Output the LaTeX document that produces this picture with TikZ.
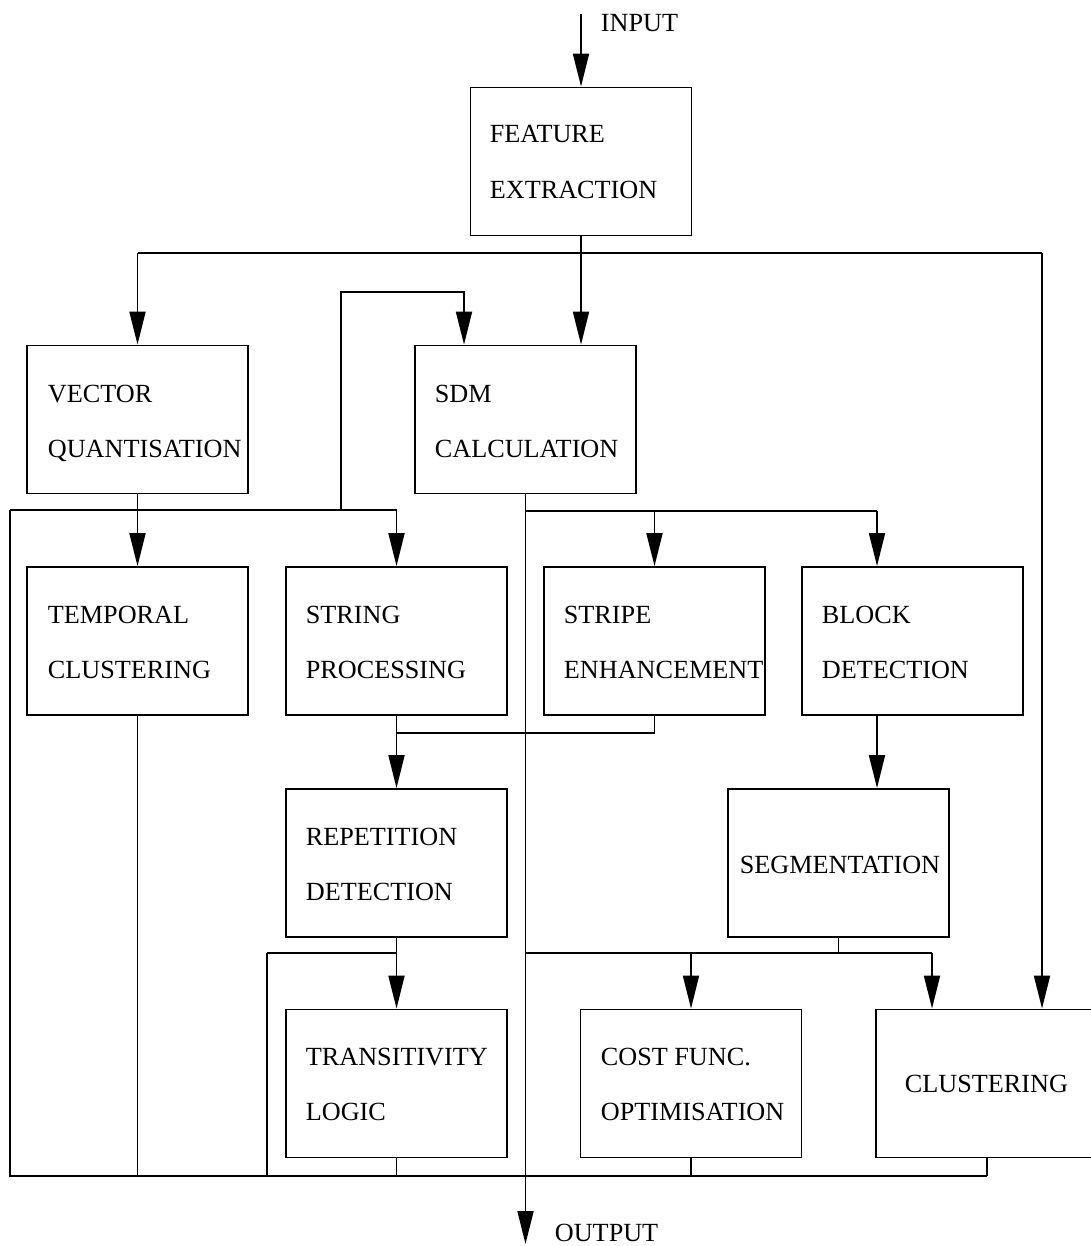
\documentclass[tikz,border=0pt]{standalone}
\usepackage{fontspec}
\setmainfont{Liberation Serif}
\usetikzlibrary{arrows.meta}
\begin{document}
\begin{tikzpicture}[x=1pt,y=-1pt,
  line width=1.8pt,
  box/.style={draw, line width=1.8pt, rectangle, inner sep=0pt, minimum width=221pt, minimum height=148pt},
  lbl/.style={anchor=base west, inner sep=0pt, font=\fontsize{26.2}{30}\selectfont},
  arr/.style={-{Triangle[length=33pt,width=16pt]}}]
\path[use as bounding box] (0,0) rectangle (1090,1246);
% boxes
\node[box] (fe) at (581,161.5) {};
\node[box] (vq) at (137.5,419.5) {};
\node[box] (sdm) at (525.5,419.5) {};
\node[box] (tc) at (137.5,641) {};
\node[box] (sp) at (396.5,641) {};
\node[box] (st) at (654.5,641) {};
\node[box] (bd) at (912.5,641) {};
\node[box] (rd) at (396.5,863) {};
\node[box] (seg) at (838.5,863) {};
\node[box] (tl) at (396.5,1083.5) {};
\node[box] (cost) at (691,1083.5) {};
\node[box, minimum width=222pt] (cl) at (987,1083.5) {};
% labels
\node[lbl] (fe1) at (489,143) {FEATURE};
\node[lbl] (fe2) at (489,199) {EXTRACTION};
\node[lbl] (vq1) at (47,402) {VECTOR};
\node[lbl] (vq2) at (47,457) {QUANTISATION};
\node[lbl] (sdm1) at (434,402) {SDM};
\node[lbl] (sdm2) at (434,457) {CALCULATION};
\node[lbl] (tc1) at (47,623) {TEMPORAL};
\node[lbl] (tc2) at (47,678) {CLUSTERING};
\node[lbl] (sp1) at (305,623) {STRING};
\node[lbl] (sp2) at (305,678) {PROCESSING};
\node[lbl] (st1) at (563,623) {STRIPE};
\node[lbl] (st2) at (563,678) {ENHANCEMENT};
\node[lbl] (bd1) at (821,623) {BLOCK};
\node[lbl] (bd2) at (821,678) {DETECTION};
\node[lbl] (rd1) at (305,845) {REPETITION};
\node[lbl] (rd2) at (305,900) {DETECTION};
\node[lbl] (seg1) at (739,873) {SEGMENTATION};
\node[lbl] (tl1) at (305,1065) {TRANSITIVITY};
\node[lbl] (tl2) at (305,1120) {LOGIC};
\node[lbl] (cost1) at (600,1065) {COST FUNC.};
\node[lbl] (cost2) at (600,1120) {OPTIMISATION};
\node[lbl] (cl1) at (904,1092) {CLUSTERING};
\node[lbl] (inp) at (600,32) {INPUT};
\node[lbl] (outp) at (554,1241) {OUTPUT};
% input
\coordinate (in) at (581,14);
\draw[arr] (in) -- (fe.north);
\draw[arr] (fe.south) -- (fe.south |- sdm.north);
% top bus
\coordinate (tbl) at (137.5,253);
\coordinate (tbr) at (1042,253);
\draw (tbl) -- (tbr);
\draw[arr] (tbl) -- (vq.north);
\draw[arr] (tbr) -- (tbr |- cl.north);
% VQ output bus
\coordinate (vb) at (137.5,510);
\coordinate (vbl) at (10,510);
\coordinate (vbr) at (396.5,510);
\coordinate (lp) at (341,510);
\coordinate (lpt) at (341,292);
\draw (vq.south) -- (vb);
\draw (vbl) -- (vbr);
\draw[arr] (vb) -- (tc.north);
\draw[arr] (vbr) -- (sp.north);
\draw[arr] (lp) -- (lpt) -| ([xshift=-61.5pt]sdm.north);
% bottom bus
\coordinate (bbl) at (10,1176);
\coordinate (bbr) at (987,1176);
\draw (vbl) -- (bbl) -- (bbr);
\draw (tc.south) -- (tc.south |- bbl);
\draw (tl.south) -- (tl.south |- bbl);
\draw (cost.south) -- (cost.south |- bbl);
\draw (cl.south) -- (bbr);
% SDM output
\coordinate (out) at (525.5,1244);
\draw[arr] (sdm.south) -- (out);
\coordinate (sb) at (525.5,511);
\coordinate (sbr) at (877,511);
\draw (sb) -- (sbr);
\draw[arr] (sb -| st.north) -- (st.north);
\draw[arr] (sbr) -- (sbr |- bd.north);
% stripe / string to repetition
\coordinate (rj) at (396.5,733);
\draw (st.south) |- (rj);
\draw (sp.south) -- (rj);
\draw[arr] (rj) -- (rd.north);
% block to segmentation
\draw[arr] ([xshift=-35.5pt]bd.south) -- ([xshift=38.5pt]seg.north);
% segmentation output
\coordinate (gj) at (838.5,953);
\coordinate (gl) at (525.5,953);
\coordinate (gr) at (932,953);
\draw (seg.south) -- (gj);
\draw (gl) -- (gr);
\draw[arr] (gl -| cost.north) -- (cost.north);
\draw[arr] (gr) -- (gr |- cl.north);
% repetition output
\coordinate (rj2) at (396.5,953);
\coordinate (rl) at (267,953);
\draw (rd.south) -- (rj2);
\draw (rl) -- (rj2);
\draw[arr] (rj2) -- (tl.north);
\draw (rl) -- (rl |- bbl);
\end{tikzpicture}
\end{document}
